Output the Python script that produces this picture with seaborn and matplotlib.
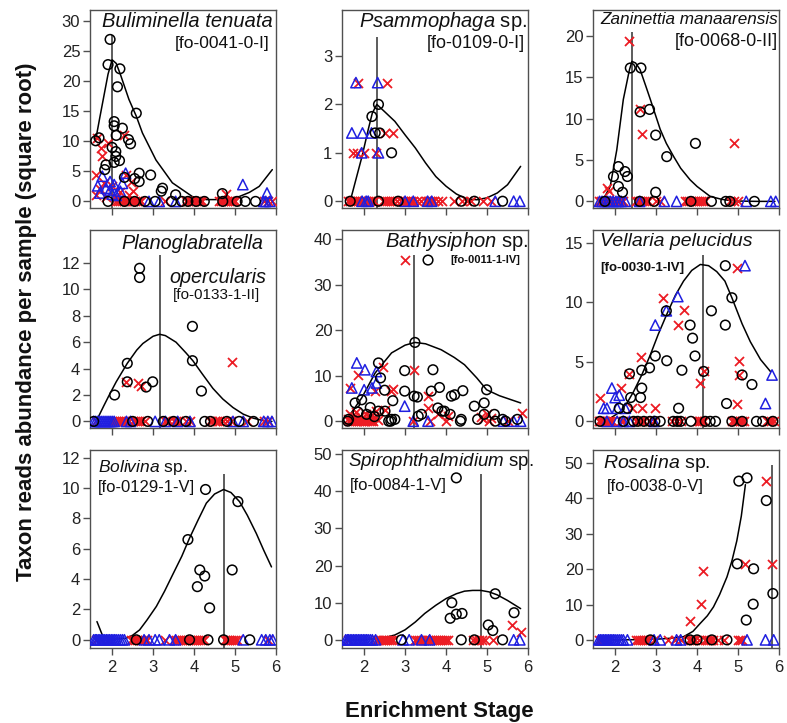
import numpy as np
import pandas as pd
import matplotlib
matplotlib.use("Agg")
import matplotlib.pyplot as plt
import seaborn as sns

# ---------------------------------------------------------------- data
# o = black circles, x = red crosses, t = blue triangles; *_x0 = samples at zero
# c* = fitted response curve, opt/top = optimum line position and height

# Buliminella tenuata
bul_o_x = [1.95, 1.90, 2.19, 2.13, 2.59, 2.05, 2.05, 2.25, 1.60, 1.68, 2.40, 2.45, 2.09, 2.09, 2.05,
           2.18, 1.85, 1.82, 2.66, 2.94, 2.66, 3.23, 3.20, 3.55, 4.69, 2.00, 2.10, 2.30, 2.55]
bul_o_y = [27.0, 22.8, 22.1, 19.1, 14.7, 13.3, 12.6, 12.2, 10.1, 10.6, 10.3, 9.6, 8.3, 7.5, 6.5,
           6.8, 6.1, 5.3, 4.7, 4.4, 3.3, 2.2, 1.7, 1.1, 1.3, 9.0, 11.0, 4.0, 3.8]
bul_x_x = [1.63, 1.72, 1.90, 2.30, 1.75, 1.60, 2.33, 1.60, 2.00, 4.77, 1.80, 2.20, 2.50, 2.45,
           1.70, 1.85, 2.10, 2.40]
bul_x_y = [10.6, 8.9, 9.7, 11.1, 7.5, 4.4, 4.4, 1.1, 2.5, 1.2, 3.0, 1.5, 1.8, 3.3,
           2.0, 0.8, 0.6, 1.0]
bul_t_x = [1.76, 2.33, 1.95, 2.05, 1.95, 1.70, 2.20, 5.19, 5.78, 1.85, 2.10, 1.65, 2.00, 2.25]
bul_t_y = [4.2, 4.7, 3.3, 2.8, 1.9, 1.4, 1.7, 2.8, 1.4, 2.2, 1.0, 2.6, 1.2, 3.0]
bul_o_x0 = [1.90, 2.30, 2.55, 2.80, 3.05, 3.45, 3.70, 3.85, 4.05, 4.25, 4.70, 5.05, 5.25, 5.50]
bul_x_x0 = [2.10, 2.15, 2.20, 2.25, 2.30, 2.35, 2.40, 2.45, 2.50, 2.55, 2.60, 2.65, 2.70, 3.30,
            3.80, 3.85, 3.90, 3.95, 4.00, 4.05, 4.10, 4.15, 4.20, 4.60, 4.65, 4.70, 4.75, 4.80,
            4.85, 4.90, 4.95, 5.00, 5.70, 5.80, 5.90]
bul_t_x0 = [2.90, 3.15, 3.55, 5.70, 5.75, 5.85]
bul_cx = [1.60, 1.70, 1.80, 1.90, 2.00, 2.10, 2.20, 2.41, 2.59, 2.74, 3.07, 3.47, 3.96, 4.30,
          4.53, 4.80, 5.10, 5.35, 5.59, 5.91]
bul_cy = [10.3, 14.0, 17.6, 21.2, 23.6, 23.0, 21.2, 17.0, 14.2, 11.4, 6.9, 3.1, 0.8, 0.3,
          0.3, 0.4, 0.8, 1.5, 2.5, 5.3]
bul_opt, bul_top = 2.00, 27.8

# Psammophaga sp.
psa_o_x = [2.35, 2.19, 2.27, 2.38, 2.67]
psa_o_y = [2.0, 1.75, 1.41, 1.41, 1.0]
psa_x_x = [1.86, 2.55, 2.52, 2.70, 1.72, 1.82, 2.00, 2.28]
psa_x_y = [2.45, 2.45, 1.41, 1.41, 1.0, 1.0, 1.0, 1.0]
psa_t_x = [1.80, 2.33, 1.70, 1.96, 2.18, 1.94, 2.35]
psa_t_y = [2.45, 2.45, 1.41, 1.41, 1.41, 1.0, 1.0]
psa_o_x0 = [1.66, 2.35, 2.83, 4.37, 4.69, 5.38]
psa_x_x0 = [1.60, 1.65, 1.70, 1.75, 1.80, 1.85, 1.90, 1.95, 2.00, 2.05, 2.10, 2.15, 2.20, 2.25,
            2.45, 2.50, 2.55, 2.60, 2.65, 2.70, 2.80, 2.90, 2.95, 3.00, 3.05, 3.10, 3.15, 3.20,
            3.30, 3.40, 3.50, 3.55, 3.60, 3.65, 3.70, 3.80, 3.90, 4.20, 4.40, 4.50, 4.60, 4.90,
            5.10]
psa_t_x0 = [1.95, 2.05, 2.10, 3.00, 3.20, 3.55, 3.65, 5.20, 5.65, 5.80]
psa_cx = [1.66, 1.80, 1.95, 2.10, 2.20, 2.31, 2.50, 2.75, 3.00, 3.25, 3.50, 3.75, 4.00, 4.25,
          4.50, 4.75, 5.00, 5.25, 5.50, 5.82]
psa_cy = [0.0, 0.45, 0.93, 1.48, 1.82, 2.0, 1.85, 1.65, 1.37, 1.10, 0.79, 0.51, 0.31, 0.15,
          0.05, 0.03, 0.07, 0.17, 0.34, 0.72]
psa_opt, psa_top = 2.31, 3.4

# Zaninettia manaarensis
zan_o_x = [2.37, 2.63, 2.84, 2.61, 2.99, 3.26, 3.96, 2.08, 1.96, 2.24, 2.30, 2.08, 2.18, 2.99]
zan_o_y = [16.1, 16.1, 11.1, 10.8, 8.0, 5.4, 7.0, 4.2, 3.0, 3.6, 3.0, 1.8, 1.1, 1.1]
zan_x_x = [2.35, 2.61, 2.65, 4.89, 1.80, 1.86]
zan_x_y = [19.3, 11.1, 8.1, 7.0, 1.6, 1.3]
zan_t_x = []
zan_t_y = []
zan_o_x0 = [1.75, 2.60, 2.95, 3.85, 4.35, 4.70, 4.80, 5.40]
zan_x_x0 = [1.60, 1.65, 1.70, 1.75, 1.80, 1.85, 1.90, 1.95, 2.00, 2.05, 2.10, 2.15, 2.20, 2.50,
            2.55, 2.60, 2.65, 2.70, 2.75, 2.80, 3.00, 3.10, 3.70, 3.75, 3.80, 3.85, 3.90, 3.95,
            4.00, 4.05, 4.10, 4.15, 4.20, 4.80, 4.90, 5.00]
zan_t_x0 = [1.62, 1.68, 1.75, 1.82, 1.88, 1.95, 2.02, 2.08, 2.15, 2.25, 2.60, 3.20, 3.50, 5.20,
            5.80, 5.92]
zan_cx = [1.59, 1.75, 1.88, 2.04, 2.20, 2.35, 2.41, 2.50, 2.61, 2.75, 2.86, 3.00, 3.10, 3.25,
          3.43, 3.60, 3.83, 4.00, 4.32, 4.60, 4.81, 5.10, 5.46, 5.90]
zan_cy = [0.0, 0.6, 1.8, 6.2, 12.3, 15.9, 16.9, 16.7, 15.9, 13.9, 12.3, 10.2, 8.7, 7.0,
          5.4, 4.0, 2.6, 1.8, 0.6, 0.25, 0.1, 0.03, 0.0, 0.0]
zan_opt, zan_top = 2.41, 20.5

# Planoglabratella opercularis
pla_o_x = [2.67, 2.67, 2.37, 2.06, 2.37, 2.83, 2.99, 3.96, 3.96, 4.18]
pla_o_y = [11.6, 10.9, 4.4, 2.0, 3.0, 2.6, 3.0, 7.2, 4.6, 2.3]
pla_x_x = [2.33, 2.63, 2.70, 4.93]
pla_x_y = [3.0, 2.9, 2.7, 4.5]
pla_t_x = []
pla_t_y = []
pla_o_x0 = [1.55, 2.50, 2.87, 3.25, 3.50, 3.80, 4.26, 4.40, 4.80, 5.10, 5.45]
pla_x_x0 = [1.60, 2.00, 2.05, 2.10, 2.15, 2.20, 2.25, 2.30, 2.35, 2.40, 2.50, 2.55, 2.60, 2.65,
            2.70, 2.80, 3.30, 3.35, 3.40, 3.50, 3.55, 3.60, 3.80, 3.90, 4.40, 4.45, 4.50, 4.55,
            4.60, 4.70, 4.80, 4.90, 5.30, 5.70, 5.80]
pla_t_x0 = [1.55, 1.60, 1.65, 1.70, 1.75, 1.80, 1.85, 1.90, 1.95, 2.00, 2.05, 2.35, 2.45, 3.05,
            3.30, 3.60, 3.90, 4.95, 5.20, 5.70, 5.80, 5.90]
pla_cx = [1.61, 1.80, 1.93, 2.10, 2.37, 2.60, 2.75, 3.00, 3.16, 3.30, 3.56, 3.80, 3.97, 4.20,
          4.46, 4.70, 4.95, 5.20, 5.44, 5.70, 5.90]
pla_cy = [0.0, 1.2, 2.0, 3.0, 4.4, 5.4, 5.9, 6.45, 6.6, 6.5, 6.0, 5.2, 4.6, 3.6,
          2.5, 1.7, 1.05, 0.55, 0.25, 0.05, 0.0]
pla_opt, pla_top = 3.18, 12.6

# Bathysiphon sp.
bat_o_x = [3.56, 3.24, 2.99, 3.68, 2.35, 3.84, 3.64, 2.99, 3.22, 3.30, 4.13, 4.21, 4.41, 4.99,
           4.69, 4.93, 3.80, 3.90, 1.78, 1.94, 2.40, 2.50, 2.70, 1.62, 2.06, 2.35, 2.51, 2.67,
           2.75, 3.32, 3.40, 3.96, 4.10, 4.37, 4.77, 4.93, 5.18, 5.38, 5.74, 2.15, 2.25, 1.85]
bat_o_y = [35.4, 17.3, 11.1, 11.3, 12.8, 7.4, 6.6, 6.6, 5.5, 5.3, 5.5, 5.8, 6.7, 6.9,
           3.3, 4.0, 2.9, 2.2, 4.0, 4.7, 9.5, 6.8, 4.5, 0.4, 1.5, 2.2, 2.2, 0.4,
           0.4, 1.1, 1.5, 2.2, 1.5, 0.4, 0.4, 1.5, 1.5, 0.4, 0.4, 3.0, 1.0, 2.0]
bat_x_x = [2.99, 3.22, 2.47, 1.86, 1.66, 2.27, 2.65, 3.56, 3.56, 2.50, 2.70, 1.60, 1.65, 1.70,
           1.75, 1.80, 1.85, 1.90, 1.95, 2.00, 2.05, 2.10, 2.15, 2.20, 2.25, 2.30, 2.35, 3.80,
           4.05, 4.85, 4.90, 5.00, 5.10, 5.85]
bat_x_y = [35.4, 11.3, 12.0, 10.2, 7.3, 6.6, 6.6, 5.5, 2.9, 2.5, 7.0, 0.5, 1.5, 0.2,
           1.0, 2.0, 0.3, 1.2, 0.8, 0.1, 1.6, 0.4, 1.1, 0.2, 0.9, 2.2, 0.3, 1.5,
           1.2, 1.0, 0.5, 1.6, 0.8, 1.8]
bat_t_x = [1.82, 2.02, 2.30, 1.70, 2.00, 2.19, 2.30, 2.99]
bat_t_y = [12.8, 11.3, 10.9, 7.3, 6.9, 7.3, 8.4, 3.3]
bat_o_x0 = [1.60, 2.60, 2.65, 4.35, 5.20, 5.45]
bat_x_x0 = [1.62, 1.67, 1.72, 1.77, 1.82, 1.87, 1.92, 1.97, 2.02, 2.07, 2.12, 2.17, 2.22, 3.20,
            3.60, 4.00, 5.05, 5.50]
bat_t_x0 = [3.20, 3.56, 5.40, 5.65, 5.82]
bat_cx = [1.66, 1.94, 2.27, 2.67, 3.00, 3.24, 3.50, 3.88, 4.20, 4.45, 4.75, 4.99, 5.30, 5.82]
bat_cy = [1.5, 5.1, 10.6, 15.0, 16.7, 17.3, 17.0, 15.7, 14.0, 12.4, 9.5, 6.9, 5.6, 4.0]
bat_opt, bat_top = 3.22, 36.6

# Vellaria pelucidus
vel_o_x = [4.69, 4.85, 4.35, 4.69, 3.83, 3.89, 3.95, 2.98, 3.26, 3.63, 2.84, 2.65, 2.35, 2.65,
           2.62, 2.38, 3.55, 4.72, 5.34, 5.10, 4.16, 3.25, 2.30, 2.10]
vel_o_y = [13.1, 10.4, 9.3, 8.1, 8.1, 7.0, 5.5, 5.5, 5.1, 4.3, 4.5, 4.3, 4.0, 2.8,
           2.0, 2.0, 1.1, 1.5, 3.1, 3.9, 4.2, 9.3, 1.1, 1.1]
vel_x_x = [1.62, 2.14, 2.35, 2.63, 3.18, 3.67, 3.53, 4.08, 4.16, 4.97, 5.02, 5.02, 4.97, 2.98,
           2.65, 2.40]
vel_x_y = [2.0, 2.8, 4.0, 5.4, 10.4, 9.4, 8.1, 3.2, 4.2, 12.9, 5.1, 3.9, 1.5, 1.1,
           1.1, 1.1]
vel_t_x = [5.17, 3.53, 3.25, 2.98, 1.92, 1.72, 2.00, 2.05, 2.25, 5.83, 5.67, 1.80, 2.10]
vel_t_y = [13.1, 10.5, 9.3, 8.1, 2.8, 1.1, 2.0, 1.1, 1.1, 3.9, 1.5, 1.1, 2.2]
vel_o_x0 = [1.63, 2.20, 2.45, 2.55, 2.70, 2.85, 2.97, 3.10, 3.42, 3.52, 3.60, 3.85, 4.20, 4.32,
            4.45, 4.85, 5.10, 5.45, 5.60, 5.85]
vel_x_x0 = [1.60, 1.64, 1.68, 1.72, 1.76, 1.80, 1.84, 1.88, 1.92, 2.15, 2.20, 2.50, 2.55, 2.60,
            2.65, 2.70, 2.85, 2.95, 3.40, 3.50, 3.60, 4.00, 4.04, 4.08, 4.12, 4.16, 4.85, 4.90,
            4.95, 5.00, 5.05, 5.10, 5.15, 5.70, 5.75, 5.80, 5.88]
vel_t_x0 = [1.80, 2.05, 2.20, 2.35, 2.95]
vel_cx = [1.72, 1.90, 2.12, 2.30, 2.45, 2.65, 2.86, 3.05, 3.26, 3.47, 3.67, 3.87, 4.08, 4.28,
          4.48, 4.68, 4.85, 5.10, 5.30, 5.55, 5.79]
vel_cy = [0.0, 0.3, 0.8, 1.6, 2.5, 3.9, 5.6, 7.3, 9.0, 10.6, 11.8, 12.7, 13.2, 13.1,
          12.6, 11.8, 10.4, 8.2, 6.7, 5.2, 4.2]
vel_opt, vel_top = 4.14, 14.0

# Bolivina sp.
bol_o_x = [4.28, 5.07, 3.85, 4.14, 4.26, 4.08, 4.38, 4.93]
bol_o_y = [9.9, 9.1, 6.6, 4.6, 4.2, 3.5, 2.1, 4.6]
bol_x_x = []
bol_x_y = []
bol_t_x = []
bol_t_y = []
bol_o_x0 = [2.59, 3.89, 4.34, 4.72, 5.36]
bol_x_x0 = [1.60, 1.75, 1.90, 2.45, 2.50, 2.55, 2.60, 2.65, 2.70, 2.75, 2.80, 2.85, 3.30, 3.50,
            3.55, 3.60, 3.65, 3.70, 3.75, 3.80, 3.85, 3.90, 3.95, 4.00, 4.05, 4.10, 4.15, 4.20,
            4.25, 4.75, 4.80, 4.85, 4.90, 4.95, 5.00, 5.05, 5.80]
bol_t_x0 = [1.55, 1.59, 1.62, 1.66, 1.70, 1.74, 1.78, 1.82, 1.86, 1.90, 1.94, 1.98, 2.02, 2.06,
            2.10, 2.15, 2.20, 2.25, 2.30, 2.78, 2.90, 3.05, 3.15, 3.40, 3.55, 5.20, 5.65, 5.75,
            5.85, 5.92]
bol_cx = [1.63, 1.77, 1.90, 2.00, 2.15, 2.34, 2.50, 2.67, 2.85, 3.08, 3.28, 3.48, 3.70, 3.89,
          4.10, 4.30, 4.50, 4.72, 4.90, 5.11, 5.30, 5.52, 5.70, 5.89]
bol_cy = [1.2, 0.25, 0.08, 0.05, 0.05, 0.1, 0.3, 0.65, 1.3, 2.2, 3.2, 4.3, 5.5, 6.7,
          7.9, 9.0, 9.6, 9.9, 9.7, 9.1, 8.2, 7.0, 5.9, 4.8]
bol_opt, bol_top = 4.72, 10.9

# Spirophthalmidium sp.
spi_o_x = [4.25, 4.14, 4.10, 4.25, 4.39, 5.20, 5.66, 5.03, 5.14]
spi_o_y = [43.6, 10.0, 5.8, 6.9, 7.1, 12.4, 7.3, 4.0, 2.5]
spi_x_x = [5.62, 5.82]
spi_x_y = [4.0, 2.2]
spi_t_x = []
spi_t_y = []
spi_o_x0 = [2.91, 4.37, 4.69, 5.38]
spi_x_x0 = [1.60, 2.30, 2.35, 2.40, 2.45, 2.50, 2.55, 2.60, 2.65, 2.70, 3.25, 3.30, 3.35, 3.40,
            3.45, 3.50, 3.55, 3.60, 3.65, 3.70, 3.75, 3.80, 3.85, 3.90, 3.95, 4.00, 4.05, 4.65,
            4.72, 4.80, 4.88, 4.95, 5.15]
spi_t_x0 = [1.55, 1.59, 1.62, 1.66, 1.70, 1.74, 1.78, 1.82, 1.86, 1.90, 1.94, 1.98, 2.02, 2.06,
            2.10, 2.15, 2.20, 2.28, 2.95, 3.10, 3.40, 3.60, 5.65, 5.80]
spi_cx = [1.54, 2.00, 2.43, 2.75, 3.00, 3.25, 3.48, 3.75, 4.00, 4.25, 4.45, 4.65, 4.85, 5.05,
          5.25, 5.50, 5.82]
spi_cy = [0.0, 0.1, 0.4, 1.3, 2.7, 4.8, 7.1, 9.3, 11.1, 12.4, 13.1, 13.3, 13.3, 12.9,
          12.1, 10.6, 8.4]
spi_opt, spi_top = 4.85, 44.6

# Rosalina sp.
ros_o_x = [5.02, 5.22, 5.69, 4.98, 5.38, 5.37, 5.20, 5.85]
ros_o_y = [44.9, 45.8, 39.4, 21.5, 20.1, 10.1, 5.6, 13.1]
ros_x_x = [5.69, 4.14, 4.09, 3.83, 5.18, 5.83]
ros_x_y = [44.9, 19.6, 10.1, 5.4, 21.5, 21.5]
ros_t_x = []
ros_t_y = []
ros_o_x0 = [2.86, 3.83, 4.00, 4.36, 4.73]
ros_x_x0 = [1.60, 1.65, 1.70, 1.75, 1.80, 2.50, 2.55, 2.60, 2.65, 2.70, 2.75, 2.80, 2.95, 3.30,
            3.45, 3.60, 3.80, 3.85, 3.90, 3.95, 4.05, 4.20, 4.25, 4.30, 4.35, 4.40, 4.50, 4.65,
            5.00, 5.05, 5.10]
ros_t_x0 = [1.60, 1.64, 1.68, 1.72, 1.76, 1.80, 1.84, 1.88, 1.92, 1.96, 2.00, 2.05, 2.10, 2.15,
            2.20, 2.30, 2.95, 3.10, 3.50, 3.60, 5.22, 5.67, 5.87]
ros_cx = [1.59, 2.00, 2.50, 3.02, 3.40, 3.67, 3.90, 4.08, 4.25, 4.40, 4.55, 4.73, 4.85, 4.97,
          5.08, 5.18]
ros_cy = [0.0, 0.0, 0.05, 0.2, 0.5, 0.9, 2.4, 4.7, 6.8, 9.3, 12.8, 17.8, 22.3, 28.0,
          35.0, 43.9]
ros_opt, ros_top = 5.83, 49.5

stage_ticks = [2, 3, 4, 5, 6]

# ---------------------------------------------------------------- style
sns.set_theme(style="ticks")
plt.rcParams["font.family"] = ["Liberation Sans", "DejaVu Sans"]
plt.rcParams["mathtext.fontset"] = "custom"
plt.rcParams["mathtext.rm"] = "Liberation Sans"
plt.rcParams["mathtext.it"] = "Liberation Sans:italic"

RED = "#ec1c24"
BLUE = "#1f1fe0"
FRAME = "#505050"

W, H = 787, 723
fig = plt.figure(figsize=(W / 100, H / 100), dpi=100)

col_left = [90, 342, 593]
row_top = [10, 230, 450]
pw, ph = 186, 198


def make_ax(r, c):
    l, t = col_left[c], row_top[r]
    return fig.add_axes([l / W, 1 - (t + ph) / H, pw / W, ph / H])


def draw_panel(ax, o, x, t, curve, opt, top, ylim, yticks, bottom):
    (ox, oy, ox0) = o
    (xx, xy, xx0) = x
    (tx, ty, tx0) = t
    red = pd.DataFrame({"stage": list(xx) + list(xx0), "abund": list(xy) + [0.0] * len(xx0)})
    blue = pd.DataFrame({"stage": list(tx) + list(tx0), "abund": list(ty) + [0.0] * len(tx0)})
    black = pd.DataFrame({"stage": list(ox) + list(ox0), "abund": list(oy) + [0.0] * len(ox0)})
    fit = pd.DataFrame({"stage": curve[0], "abund": curve[1]})

    ax.vlines(opt, ylim[0], top, color="#303030", lw=1.1, zorder=2)
    sns.lineplot(data=fit, x="stage", y="abund", ax=ax, color="black", lw=1.1,
                 sort=False, estimator=None, zorder=3)
    if len(red):
        sns.scatterplot(data=red, x="stage", y="abund", ax=ax, marker="x", color=RED,
                        s=42, linewidth=1.3, zorder=4)
    if len(blue):
        sns.scatterplot(data=blue, x="stage", y="abund", ax=ax, marker="^", s=55,
                        facecolor="none", edgecolor=BLUE, linewidth=1.1, zorder=5)
    if len(black):
        sns.scatterplot(data=black, x="stage", y="abund", ax=ax, marker="o", s=48,
                        facecolor="none", edgecolor="black", linewidth=1.1, zorder=6)

    ax.set_xlim(1.46, 6.0)
    ax.set_ylim(*ylim)
    ax.set_xticks(stage_ticks)
    ax.set_yticks(yticks)
    ax.set_xlabel("")
    ax.set_ylabel("")
    for s in ax.spines.values():
        s.set_visible(True)
        s.set_color(FRAME)
        s.set_linewidth(1.0)
    ax.tick_params(axis="both", direction="out", length=5, width=1.0, color=FRAME,
                   labelsize=12, pad=2, labelcolor="#222222")
    if not bottom:
        ax.tick_params(axis="x", labelbottom=False)
    else:
        ax.tick_params(axis="x", labelsize=12, pad=4)


panels = [
    (0, 0, (bul_o_x, bul_o_y, bul_o_x0), (bul_x_x, bul_x_y, bul_x_x0), (bul_t_x, bul_t_y, bul_t_x0),
     (bul_cx, bul_cy), bul_opt, bul_top, (-1.1, 31.9), [0, 5, 10, 15, 20, 25, 30]),
    (0, 1, (psa_o_x, psa_o_y, psa_o_x0), (psa_x_x, psa_x_y, psa_x_x0), (psa_t_x, psa_t_y, psa_t_x0),
     (psa_cx, psa_cy), psa_opt, psa_top, (-0.14, 3.95), [0, 1, 2, 3]),
    (0, 2, (zan_o_x, zan_o_y, zan_o_x0), (zan_x_x, zan_x_y, zan_x_x0), (zan_t_x, zan_t_y, zan_t_x0),
     (zan_cx, zan_cy), zan_opt, zan_top, (-0.8, 23.1), [0, 5, 10, 15, 20]),
    (1, 0, (pla_o_x, pla_o_y, pla_o_x0), (pla_x_x, pla_x_y, pla_x_x0), (pla_t_x, pla_t_y, pla_t_x0),
     (pla_cx, pla_cy), pla_opt, pla_top, (-0.5, 14.5), [0, 2, 4, 6, 8, 10, 12]),
    (1, 1, (bat_o_x, bat_o_y, bat_o_x0), (bat_x_x, bat_x_y, bat_x_x0), (bat_t_x, bat_t_y, bat_t_x0),
     (bat_cx, bat_cy), bat_opt, bat_top, (-1.5, 42.0), [0, 10, 20, 30, 40]),
    (1, 2, (vel_o_x, vel_o_y, vel_o_x0), (vel_x_x, vel_x_y, vel_x_x0), (vel_t_x, vel_t_y, vel_t_x0),
     (vel_cx, vel_cy), vel_opt, vel_top, (-0.56, 16.1), [0, 5, 10, 15]),
    (2, 0, (bol_o_x, bol_o_y, bol_o_x0), (bol_x_x, bol_x_y, bol_x_x0), (bol_t_x, bol_t_y, bol_t_x0),
     (bol_cx, bol_cy), bol_opt, bol_top, (-0.54, 12.5), [0, 2, 4, 6, 8, 10, 12]),
    (2, 1, (spi_o_x, spi_o_y, spi_o_x0), (spi_x_x, spi_x_y, spi_x_x0), (spi_t_x, spi_t_y, spi_t_x0),
     (spi_cx, spi_cy), spi_opt, spi_top, (-2.2, 51.1), [0, 10, 20, 30, 40, 50]),
    (2, 2, (ros_o_x, ros_o_y, ros_o_x0), (ros_x_x, ros_x_y, ros_x_x0), (ros_t_x, ros_t_y, ros_t_x0),
     (ros_cx, ros_cy), ros_opt, ros_top, (-2.3, 53.7), [0, 10, 20, 30, 40, 50]),
]

axes = {}
for (r, c, o, x, t, curve, opt, top, ylim, yticks) in panels:
    ax = make_ax(r, c)
    draw_panel(ax, o, x, t, curve, opt, top, ylim, yticks, bottom=(r == 2))
    axes[(r, c)] = ax

# ---------------------------------------------------------------- taxon labels
def label(ax, x, y, s, size, ha="right", **kw):
    ax.text(x, y, s, transform=ax.transAxes, ha=ha, va="center", fontsize=size,
            color="#111111", zorder=10, **kw)

a = axes[(0, 0)]
label(a, 0.985, 0.94, "Buliminella tenuata", 14.5, style="italic")
label(a, 0.965, 0.83, "[fo-0041-0-I]", 12.5)

a = axes[(0, 1)]
label(a, 0.995, 0.94, r"$\mathit{Psammophaga}$ sp.", 14.5)
label(a, 0.985, 0.83, "[fo-0109-0-I]", 13)

a = axes[(0, 2)]
label(a, 0.995, 0.95, "Zaninettia manaarensis", 12.3, style="italic")
label(a, 0.995, 0.84, "[fo-0068-0-II]", 13)

a = axes[(1, 0)]
label(a, 0.55, 0.93, "Planoglabratella", 14.3, ha="center", style="italic")
label(a, 0.95, 0.76, "opercularis", 14.3, style="italic")
label(a, 0.915, 0.67, "[fo-0133-1-II]", 11)

a = axes[(1, 1)]
label(a, 1.0, 0.94, r"$\mathit{Bathysiphon}$ sp.", 14.5)
label(a, 0.957, 0.85, "[fo-0011-1-IV]", 8, weight="bold")

a = axes[(1, 2)]
label(a, 0.04, 0.94, "Vellaria pelucidus", 14, ha="left", style="italic")
label(a, 0.04, 0.81, "[fo-0030-1-IV]", 9.5, ha="left", weight="bold")

a = axes[(2, 0)]
label(a, 0.045, 0.91, r"$\mathit{Bolivina}$ sp.", 12.5, ha="left")
label(a, 0.045, 0.81, "[fo-0129-1-V]", 12, ha="left")

a = axes[(2, 1)]
label(a, 0.03, 0.94, r"$\mathit{Spirophthalmidium}$ sp.", 13.5, ha="left")
label(a, 0.045, 0.82, "[fo-0084-1-V]", 12, ha="left")

a = axes[(2, 2)]
label(a, 0.054, 0.93, r"$\mathit{Rosalina}$ sp.", 14, ha="left")
label(a, 0.075, 0.815, "[fo-0038-0-V]", 12, ha="left")

# ---------------------------------------------------------------- shared axis titles
fig.text(27 / W, 1 - 322 / H, "Taxon reads abundance per sample (square root)",
         rotation=90, ha="center", va="center", fontsize=16, weight="bold", color="#111111")
fig.text(439 / W, 1 - 712 / H, "Enrichment Stage", ha="center", va="center",
         fontsize=16, weight="bold", color="#111111")

fig.savefig("out.png", dpi=100)
